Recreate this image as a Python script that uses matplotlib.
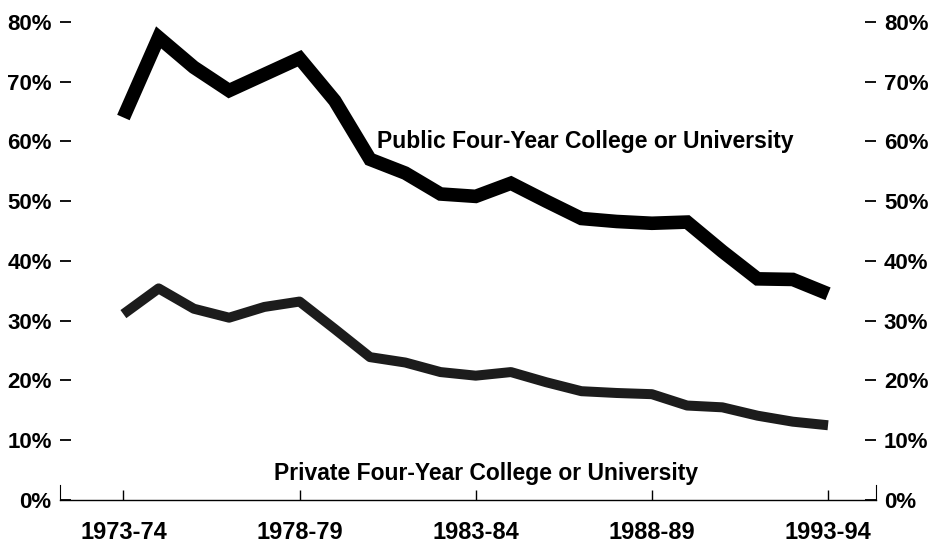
import matplotlib.pyplot as plt

# share of ... by type of institution, 1973-74 to 1993-94
years = list(range(1973, 1994))
public_pct = [64.0, 77.4, 72.4, 68.5, 71.2, 73.9, 66.8, 57.0, 54.7, 51.2, 50.8,
              53.0, 50.0, 47.1, 46.6, 46.3, 46.5, 41.6, 37.0, 36.9, 34.5]
private_pct = [31.1, 35.4, 32.0, 30.5, 32.3, 33.2, 28.6, 23.9, 23.0, 21.4, 20.8,
               21.4, 19.7, 18.2, 17.9, 17.7, 15.8, 15.5, 14.1, 13.1, 12.5]
tick_years = [1973, 1978, 1983, 1988, 1993]
tick_labels = ["1973-74", "1978-79", "1983-84", "1988-89", "1993-94"]
y_ticks = [0, 10, 20, 30, 40, 50, 60, 70, 80]

plt.rcParams['font.family'] = ['Liberation Sans', 'DejaVu Sans']
plt.rcParams['font.weight'] = 'bold'

fig = plt.figure(figsize=(9.3, 5.47), dpi=100)
ax = fig.add_axes([0.0645, 0.086, 0.877, 0.874])

ax.plot(years, public_pct, color='black', lw=9.8, solid_joinstyle='miter', solid_capstyle='butt')
ax.plot(years, private_pct, color='#1c1c1c', lw=7.2, solid_joinstyle='round', solid_capstyle='butt')

ax.text(1986.1, 60, "Public Four-Year College or University", ha='center', va='center', fontsize=16.5, fontweight='bold')
ax.text(1983.3, 4.5, "Private Four-Year College or University", ha='center', va='center', fontsize=16.5, fontweight='bold')

ax.set_xlim(1971.2, 1994.35)
ax.set_ylim(0, 80)

ax.set_xticks(tick_years)
ax.set_xticklabels(tick_labels, fontsize=17, fontweight='bold')
ax.set_yticks(y_ticks)
ax.set_yticklabels([f"{v}%" for v in y_ticks], fontsize=16, fontweight='bold')

ax.tick_params(axis='x', direction='in', length=7, width=1, pad=15)
ax.tick_params(axis='y', direction='in', length=8, width=1.3, pad=6,
               left=True, right=True, labelleft=True, labelright=True)

ax.spines['top'].set_visible(False)
ax.spines['left'].set_bounds(0, 2.5)
ax.spines['right'].set_bounds(0, 2.5)
ax.spines['bottom'].set_linewidth(1)

fig.savefig("out.png", dpi=100)
